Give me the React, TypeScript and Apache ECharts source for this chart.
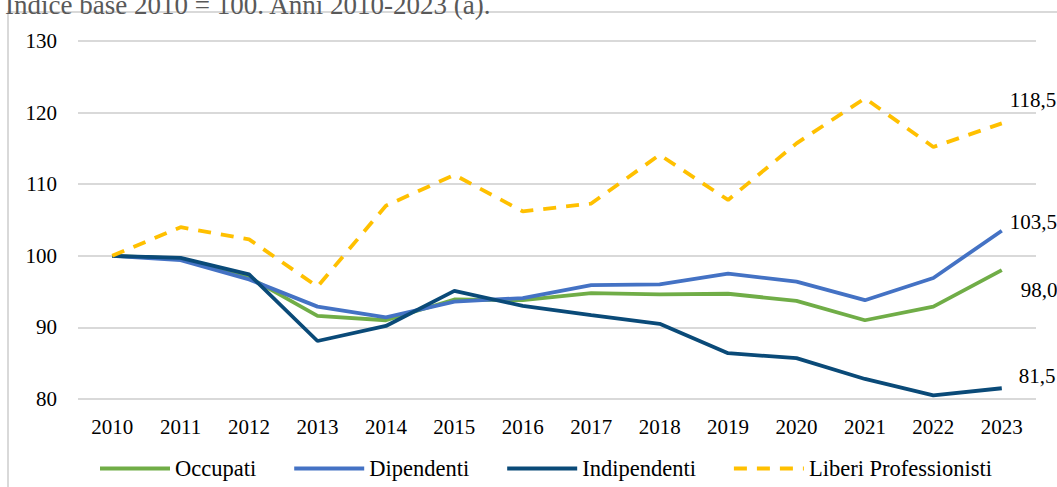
import React, { useEffect, useRef } from "react";
import * as echarts from "echarts";

const years = ["2010","2011","2012","2013","2014","2015","2016","2017","2018","2019","2020","2021","2022","2023"];
const occupati = [100, 99.6, 97.0, 91.6, 91.0, 93.9, 93.8, 94.8, 94.6, 94.7, 93.7, 91.0, 92.9, 98.0];
const dipendenti = [100, 99.4, 96.7, 92.9, 91.4, 93.6, 94.1, 95.9, 96.0, 97.5, 96.4, 93.8, 96.9, 103.5];
const indipendenti = [100, 99.7, 97.4, 88.1, 90.2, 95.1, 93.0, 91.7, 90.5, 86.4, 85.7, 82.8, 80.5, 81.5];
const liberi = [100, 104.0, 102.3, 95.7, 107.0, 111.3, 106.2, 107.3, 114.1, 107.8, 115.7, 122.0, 115.2, 118.5];
const seriesNames = ["Occupati", "Dipendenti", "Indipendenti", "Liberi Professionisti"];

const FONT = "Liberation Serif";

export default function App() {
  const ref = useRef<HTMLDivElement>(null);
  useEffect(() => {
    if (!ref.current) return;
    const chart = echarts.init(ref.current, null, { renderer: "svg" });
    const fmt = (p: any) => Number(p.value).toFixed(1).replace(".", ",");
    const mk = (name: string, data: number[], color: string, offset: number[], dashed = false) => ({
      name,
      type: "line",
      data,
      showSymbol: false,
      symbol: "none",
      lineStyle: { color, width: 3.8, type: dashed ? [13, 10] : "solid", cap: "butt" },
      itemStyle: { color },
      endLabel: {
        show: true,
        formatter: fmt,
        offset,
        fontFamily: FONT,
        fontSize: 21,
        color: "#000",
      },
    });
    chart.setOption({
      animation: false,
      backgroundColor: "#fff",
      textStyle: { fontFamily: FONT },
      title: {
        text: "Indice base 2010 = 100. Anni 2010-2023 (a).",
        left: 0,
        top: -14,
        textStyle: { fontFamily: FONT, fontSize: 27, fontWeight: "normal", color: "#595959" },
      },
      graphic: [
        {
          type: "rect",
          shape: { x: 8, y: 12, width: 1100, height: 520 },
          style: { fill: "none", stroke: "#d9d9d9", lineWidth: 2 },
          silent: true,
          z: -10,
        },
      ],
      grid: { left: 78, right: 21, top: 41, bottom: 88, containLabel: false },
      legend: {
        data: seriesNames,
        left: 93,
        top: 452,
        itemWidth: 70,
        itemHeight: 14,
        itemGap: 36,
        itemStyle: { opacity: 0 },
        lineStyle: { width: 4 },
        textStyle: { fontFamily: FONT, fontSize: 22.5, color: "#000" },
      },
      xAxis: {
        type: "category",
        data: years,
        boundaryGap: true,
        axisLine: { show: false },
        axisTick: { show: false },
        axisLabel: { fontFamily: FONT, fontSize: 21, color: "#000", margin: 17 },
      },
      yAxis: {
        type: "value",
        min: 80,
        max: 130,
        interval: 10,
        axisLine: { show: false },
        axisTick: { show: false },
        splitLine: { lineStyle: { color: "#d9d9d9", width: 2 } },
        axisLabel: { fontFamily: FONT, fontSize: 21, color: "#000", margin: 21 },
      },
      series: [
        mk(seriesNames[0], occupati, "#70ad47", [11, 20]),
        mk(seriesNames[1], dipendenti, "#4472c4", [0, -9]),
        mk(seriesNames[2], indipendenti, "#0a4a78", [9, -12]),
        mk(seriesNames[3], liberi, "#ffc000", [0, -23], true),
      ],
    });
    return () => chart.dispose();
  }, []);
  return (
    <div
      ref={ref}
      style={{ position: "fixed", left: 0, top: 0, width: 1057, height: 487 }}
    />
  );
}
